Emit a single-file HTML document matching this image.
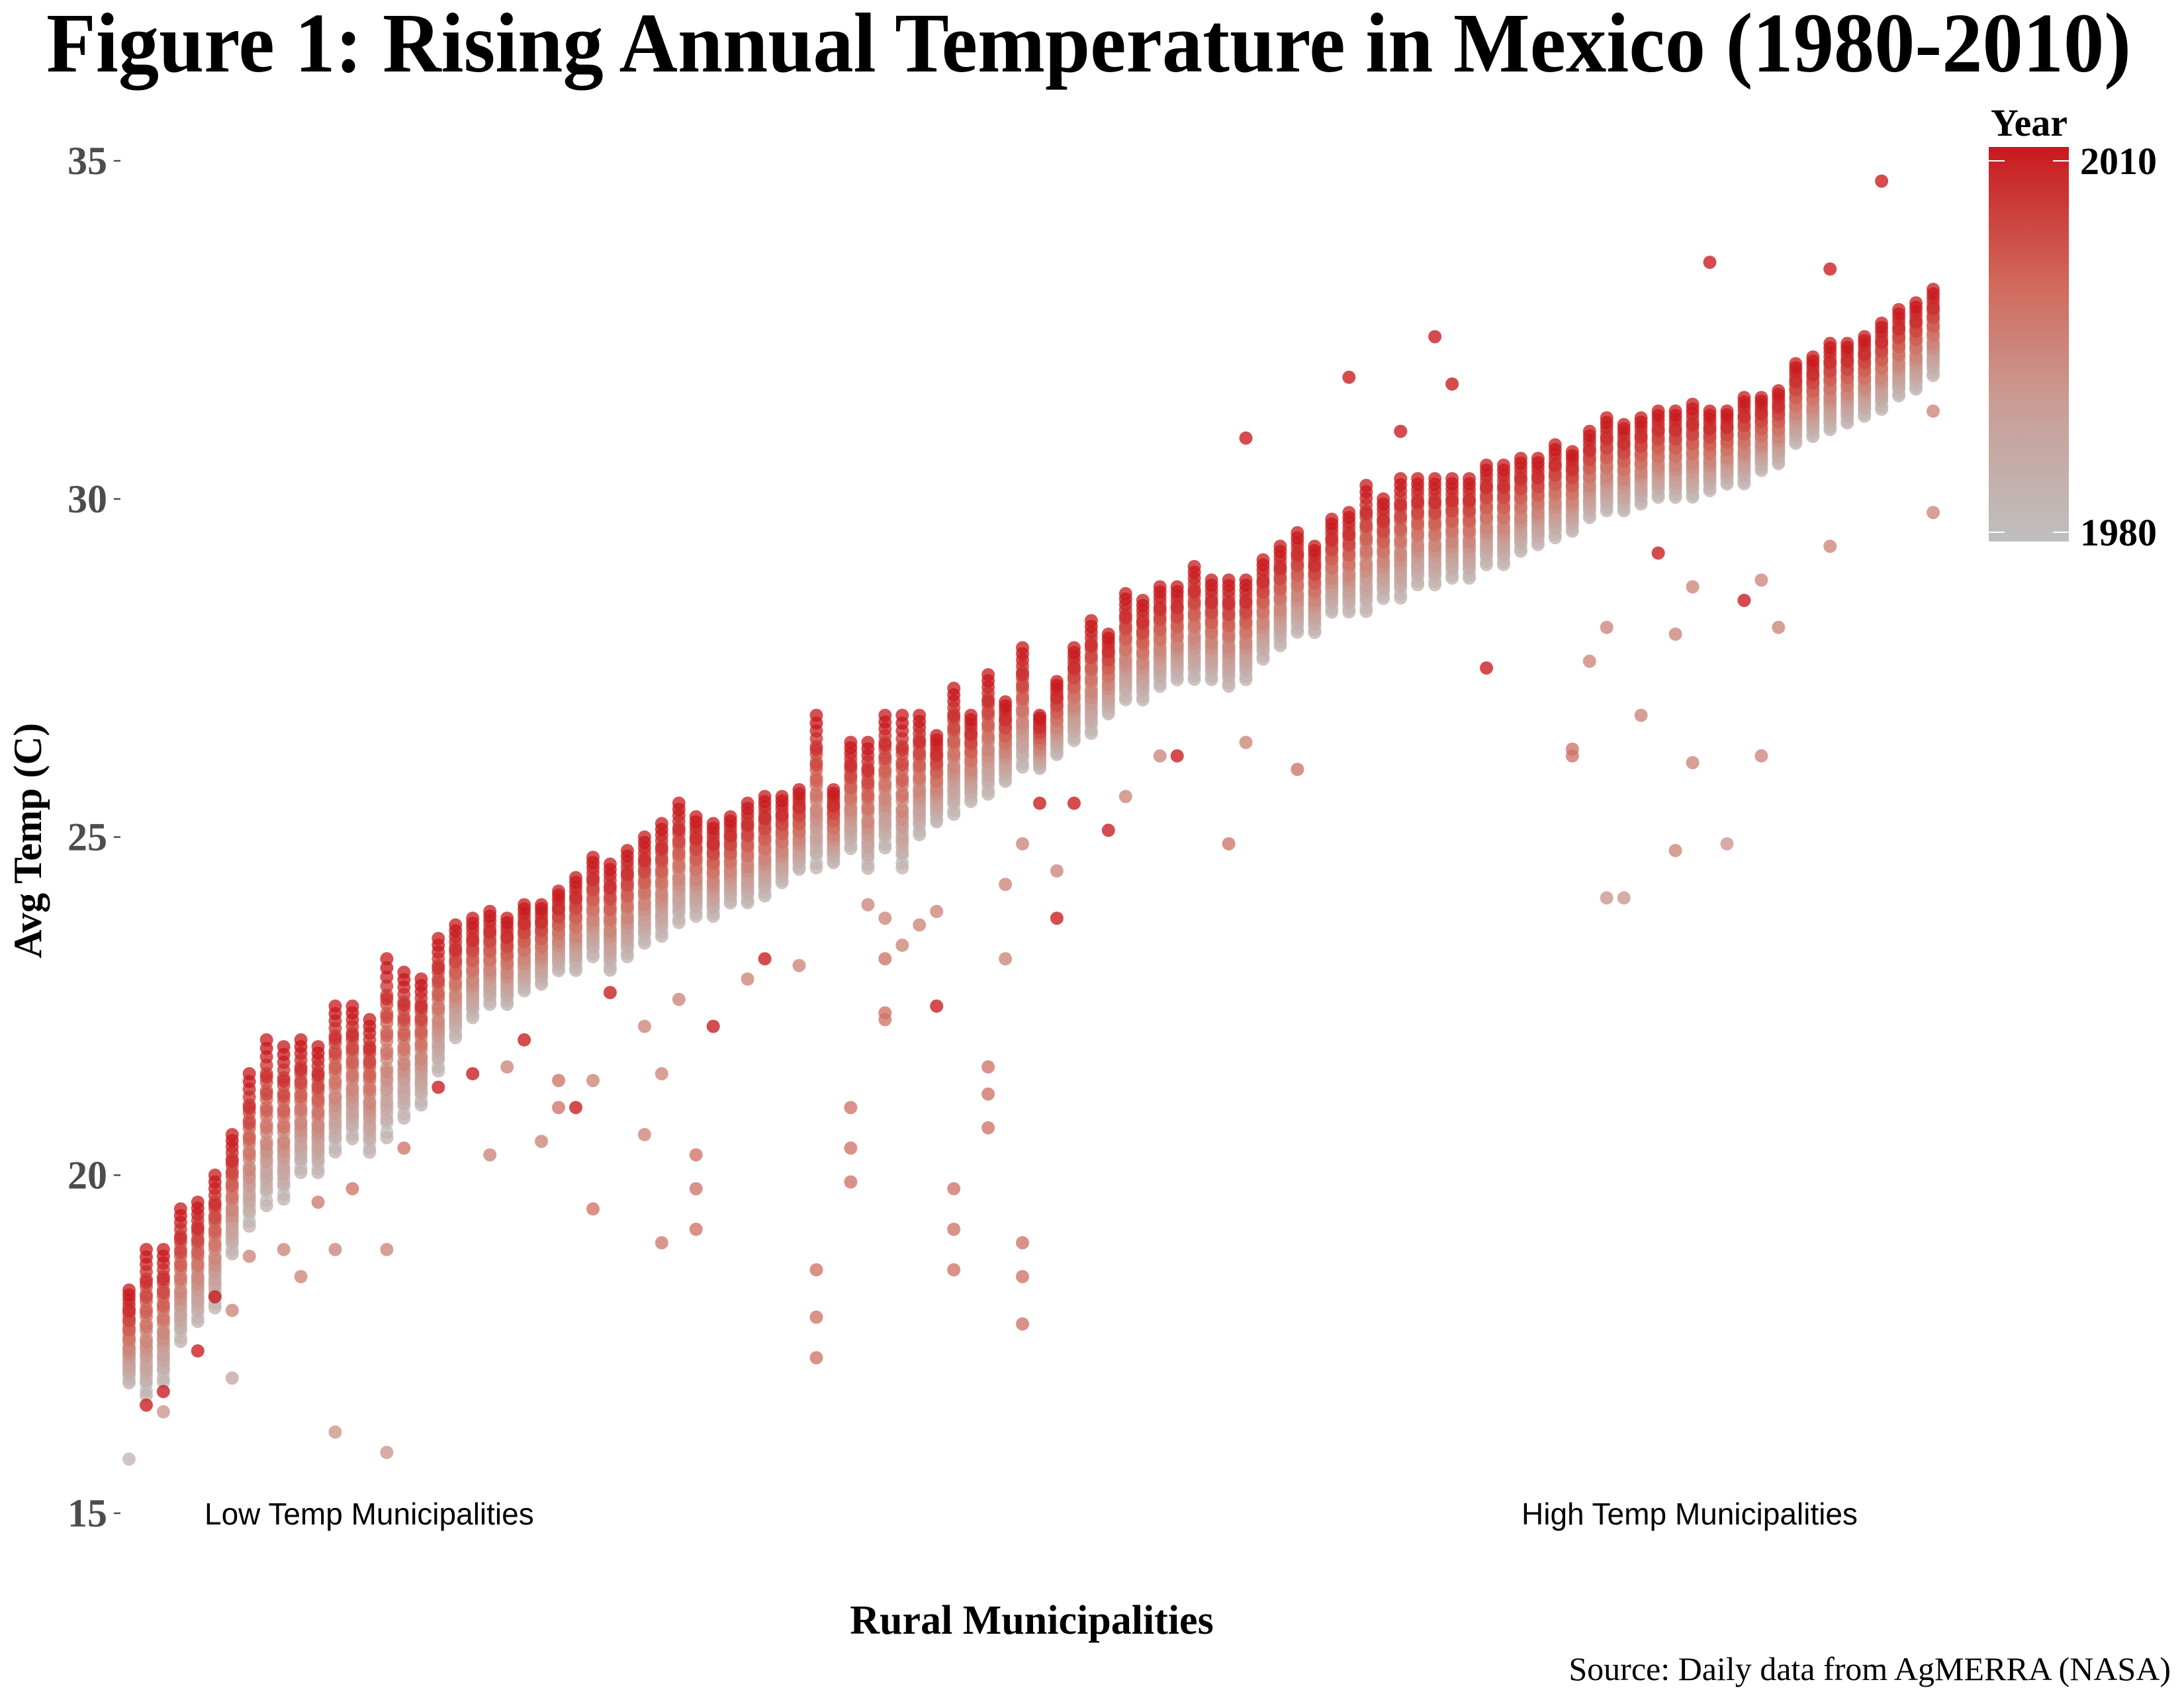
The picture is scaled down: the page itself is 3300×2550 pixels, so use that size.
<!DOCTYPE html>
<html><head><meta charset="utf-8"><style>
html,body{margin:0;padding:0;background:#fff;}
svg{display:block;}
</style></head><body>
<svg id="chart" width="3300" height="2550" viewBox="0 0 3300 2550" xmlns="http://www.w3.org/2000/svg">
<defs>
<linearGradient id="yg" x1="0" y1="1" x2="0" y2="0">
<stop offset="0" stop-color="#bfbfbf"/><stop offset="0.35" stop-color="#c99d95"/><stop offset="0.65" stop-color="#d06a5c"/><stop offset="1" stop-color="#c8191e"/>
</linearGradient>
</defs>
<text x="1645" y="108" text-anchor="middle" font-family="Liberation Serif, serif" font-weight="bold" font-size="128" textLength="3150" lengthAdjust="spacingAndGlyphs">Figure 1: Rising Annual Temperature in Mexico (1980-2010)</text>
<g id="yaxis"></g>
<g id="points"></g>
<text transform="translate(62,1270) rotate(-90)" text-anchor="middle" font-family="Liberation Serif, serif" font-weight="bold" font-size="60">Avg Temp (C)</text>
<text x="1559" y="2468" text-anchor="middle" font-family="Liberation Serif, serif" font-weight="bold" font-size="62">Rural Municipalities</text>
<text x="309" y="2303" font-family="Liberation Sans, sans-serif" font-size="46">Low Temp Municipalities</text>
<text x="2299" y="2303" font-family="Liberation Sans, sans-serif" font-size="46">High Temp Municipalities</text>
<text x="3280" y="2538" text-anchor="end" font-family="Liberation Serif, serif" font-size="50">Source: Daily data from AgMERRA (NASA)</text>
<g>
<text x="3008" y="205" font-family="Liberation Serif, serif" font-weight="bold" font-size="58">Year</text>
<rect x="3005" y="222" width="121" height="596" fill="url(#yg)"/>
<line x1="3005" y1="243" x2="3029" y2="243" stroke="#fff" stroke-width="2"/><line x1="3102" y1="243" x2="3126" y2="243" stroke="#fff" stroke-width="2"/>
<line x1="3005" y1="804" x2="3029" y2="804" stroke="#fff" stroke-width="2"/><line x1="3102" y1="804" x2="3126" y2="804" stroke="#fff" stroke-width="2"/>
<text x="3143" y="263" font-family="Liberation Serif, serif" font-weight="bold" font-size="58">2010</text>
<text x="3143" y="824" font-family="Liberation Serif, serif" font-weight="bold" font-size="58">1980</text>
</g>
</svg>
<script>
const yTicks = [15, 20, 25, 30, 35];
const colLow = [16.9,16.7,16.9,17.5,17.8,18.0,18.8,19.2,19.5,19.6,20.0,20.0,20.3,20.5,20.3,20.5,20.8,21.0,21.5,22.0,22.3,22.5,22.5,22.7,22.8,23.0,23.0,23.2,23.0,23.2,23.4,23.5,23.7,23.8,23.8,24.0,24.0,24.1,24.3,24.5,24.5,24.6,24.8,24.5,24.8,24.5,25.0,25.2,25.3,25.5,25.6,25.8,26.0,26.0,26.2,26.4,26.5,26.8,27.0,27.0,27.2,27.3,27.3,27.3,27.2,27.3,27.6,27.8,28.0,28.0,28.3,28.3,28.3,28.5,28.5,28.7,28.7,28.8,28.8,29.0,29.0,29.2,29.3,29.4,29.5,29.7,29.8,29.8,29.9,30.0,30.0,30.0,30.1,30.2,30.2,30.4,30.5,30.8,30.9,31.0,31.1,31.2,31.3,31.5,31.6,31.8];
const colHigh = [18.3,18.9,18.9,19.5,19.6,20.0,20.6,21.5,22.0,21.9,22.0,21.9,22.5,22.5,22.3,23.2,23.0,22.9,23.5,23.7,23.8,23.9,23.8,24.0,24.0,24.2,24.4,24.7,24.6,24.8,25.0,25.2,25.5,25.3,25.2,25.3,25.5,25.6,25.6,25.7,26.8,25.7,26.4,26.4,26.8,26.8,26.8,26.5,27.2,26.8,27.4,27.0,27.8,26.8,27.3,27.8,28.2,28.0,28.6,28.5,28.7,28.7,29.0,28.8,28.8,28.8,29.1,29.3,29.5,29.3,29.7,29.8,30.2,30.0,30.3,30.3,30.3,30.3,30.3,30.5,30.5,30.6,30.6,30.8,30.7,31.0,31.2,31.1,31.2,31.3,31.3,31.4,31.3,31.3,31.5,31.5,31.6,32.0,32.1,32.3,32.3,32.4,32.6,32.8,32.9,33.1];
const years = [1980,1981,1982,1983,1984,1985,1986,1987,1988,1989,1990,1991,1992,1993,1994,1995,1996,1997,1998,1999,2000,2001,2002,2003,2004,2005,2006,2007,2008,2009,2010];
const yearPos = [0.10,0.05,0.20,0.15,0.02,0.25,0.12,0.30,0.18,0.22,0.35,0.28,0.40,0.33,0.45,0.38,0.50,0.55,0.48,0.60,0.65,0.58,0.70,0.75,0.68,0.80,0.85,0.78,0.90,1.00,0.95];
const outCol = [0,1,2,2,4,5,6,6,7,9,10,11,12,12,13,15,15,16,18,20,21,22,23,24,25,25,26,27,27,28,30,30,31,31,32,33,33,33,34,36,37,39,40,40,40,42,42,42,43,44,44,44,44,45,46,47,47,48,48,48,50,50,50,51,51,52,52,52,52,53,54,54,55,57,58,60,61,64,65,65,68,71,74,76,77,79,84,84,85,86,86,87,88,89,90,90,91,91,92,93,94,95,95,96,99,99,102,105,105];
const outTemp = [15.8,16.6,16.8,16.5,17.4,18.2,17.0,18.0,18.8,18.9,18.5,19.6,16.2,18.9,19.8,15.9,18.9,20.4,21.3,21.5,20.3,21.6,22.0,20.5,21.4,21.0,21.0,19.5,21.4,22.7,20.6,22.2,19.0,21.5,22.6,19.2,19.8,20.3,22.2,22.9,23.2,23.1,17.3,17.9,18.6,19.9,20.4,21.0,24.0,22.3,22.4,23.2,23.8,23.4,23.7,22.5,23.9,18.6,19.2,19.8,20.7,21.2,21.6,23.2,24.3,17.8,18.5,19.0,24.9,25.5,23.8,24.5,25.5,25.1,25.6,26.2,26.2,24.9,26.4,30.9,26.0,31.8,31.0,32.4,31.7,27.5,26.3,26.2,27.6,24.1,28.1,24.1,26.8,29.2,24.8,28.0,26.1,28.7,33.5,24.9,28.5,26.2,28.8,28.1,29.3,33.4,34.7,29.8,31.3];
const outYear = [1983,2010,2010,1992,2010,2010,1988,1995,1995,1995,1995,1997,1992,1995,1998,1992,1995,1998,2010,2010,1995,1995,2010,1995,1998,1998,2010,1998,1995,2010,1995,1995,1997,1995,1995,1998,1998,1998,2010,1995,2010,1995,1998,1998,1998,1998,1998,1998,1995,1998,1998,1998,1995,1995,1995,2010,1995,1998,1998,1998,1998,1998,1998,1995,1995,1998,1998,1998,1995,2010,2010,1995,2010,2010,1995,1995,2010,1998,1995,2010,1998,2010,2010,2010,2010,2010,1998,1998,1995,1992,1995,1992,1995,2010,1995,1995,1995,1995,2010,1992,2010,1995,1995,1995,1995,2010,2010,1995,1995];

const X0 = 195, X1 = 2921, Y15 = 2286, PXDEG = 102.15;
function xScale(c){ return X0 + c * (X1 - X0) / (colLow.length - 1); }
function yScale(t){ return Y15 - (t - 15) * PXDEG; }
const stops = [[0,[191,191,191]],[0.35,[201,157,149]],[0.65,[208,106,92]],[1,[200,25,30]]];
function colorFor(yr){
  const f = Math.max(0, Math.min(1, (yr - 1980) / 30));
  for (let i = 1; i < stops.length; i++) {
    if (f <= stops[i][0]) {
      const a = stops[i-1], b = stops[i], u = (f - a[0]) / (b[0] - a[0]);
      const c = a[1].map((v, k) => Math.round(v + (b[1][k] - v) * u));
      return 'rgb(' + c.join(',') + ')';
    }
  }
  return 'rgb(200,25,30)';
}
const NS = 'http://www.w3.org/2000/svg';
const ya = document.getElementById('yaxis');
yTicks.forEach(t => {
  const y = yScale(t);
  const ln = document.createElementNS(NS, 'line');
  
  
  ln.setAttribute('x1', 172); ln.setAttribute('x2', 182);
  ln.setAttribute('y1', y); ln.setAttribute('y2', y);
  ln.setAttribute('stroke', '#4d4d4d'); ln.setAttribute('stroke-width', 2.5);
  ya.appendChild(ln);
  const tx = document.createElementNS(NS, 'text');
  
  
  tx.setAttribute('x', 162); tx.setAttribute('y', y + 20);
  tx.setAttribute('text-anchor', 'end');
  tx.setAttribute('font-family', 'Liberation Serif, serif');
  tx.setAttribute('font-weight', 'bold');
  tx.setAttribute('font-size', 60);
  tx.setAttribute('fill', '#4d4d4d');
  tx.textContent = t;
  ya.appendChild(tx);
});
const pg = document.getElementById('points');
function dot(x, y, yr){
  const c = document.createElementNS(NS, 'circle');
  
  
  c.setAttribute('cx', x.toFixed(1)); c.setAttribute('cy', y.toFixed(1));
  c.setAttribute('r', 10);
  c.setAttribute('fill', colorFor(yr));
  c.setAttribute('fill-opacity', 0.78);
  pg.appendChild(c);
}
const pts = [];
years.forEach((yr, i) => {
  colLow.forEach((lo, c) => {
    pts.push([xScale(c), yScale(lo + yearPos[i] * (colHigh[c] - lo)), yr]);
  });
});
outCol.forEach((c, i) => pts.push([xScale(c), yScale(outTemp[i]), outYear[i]]));
pts.sort((a, b) => a[2] - b[2]);
pts.forEach(p => dot(p[0], p[1], p[2]));
</script>
</body></html>
